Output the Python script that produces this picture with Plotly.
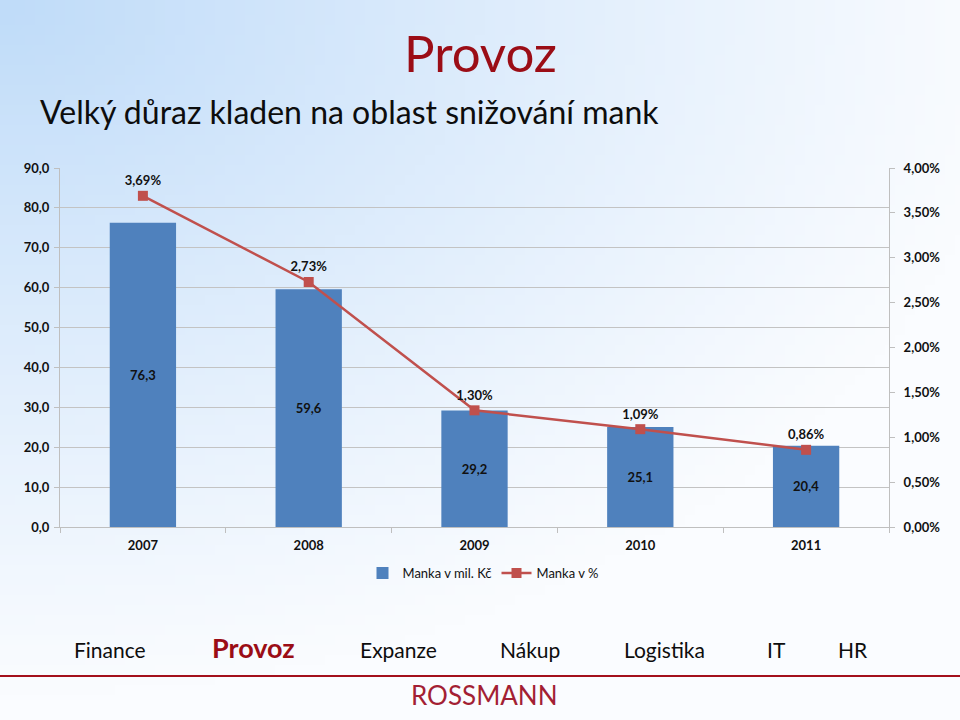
import base64, struct, zlib
import numpy as np
import plotly.graph_objects as go

# ---- data ----
years = ["2007", "2008", "2009", "2010", "2011"]
manka_mil = [76.3, 59.6, 29.2, 25.1, 20.4]
manka_pct = [0.0369, 0.0273, 0.0130, 0.0109, 0.0086]
nav_items = ["Finance", "Provoz", "Expanze", "Nákup", "Logistika", "IT", "HR"]

W, H = 960, 720
L, R, T, B = 60, 889, 168, 527


def px(x):
    return (x - L) / (R - L)


def py(y):
    return (B - y) / (B - T)


# ---- gradient background png ----
def gradient_png(w=96, h=72):
    yy, xx = np.mgrid[0:h, 0:w]
    d = np.sqrt((xx / (w * 1.05)) ** 2 + (yy / (h * 0.95)) ** 2)
    t = np.clip(1 - d, 0, 1) ** 1.1
    base = np.array([192, 220, 249], dtype=float)
    white = np.array([250, 252, 255], dtype=float)
    img = white[None, None, :] * (1 - t[..., None]) + base[None, None, :] * t[..., None]
    img = img.astype(np.uint8)
    raw = b"".join(b"\x00" + img[r].tobytes() for r in range(h))

    def chunk(tag, data):
        c = struct.pack(">I", len(data)) + tag + data
        return c + struct.pack(">I", zlib.crc32(tag + data) & 0xFFFFFFFF)

    png = b"\x89PNG\r\n\x1a\n" + chunk(b"IHDR", struct.pack(">IIBBBBB", w, h, 8, 2, 0, 0, 0))
    png += chunk(b"IDAT", zlib.compress(raw, 9)) + chunk(b"IEND", b"")
    return "data:image/png;base64," + base64.b64encode(png).decode()


FONT = "Lato"
BLUE = "#4f81bd"
RED = "#c0504d"
DARKRED = "#9b0d16"
TICKFONT = dict(family=FONT, size=13, color="#111111", weight="bold")

fig = go.Figure()
fig.add_trace(go.Bar(
    x=years, y=manka_mil, name="Manka v mil. Kč",
    marker=dict(color=BLUE, line=dict(width=0)), width=0.4,
    texttemplate="%{y:.1f}", textposition="inside", insidetextanchor="middle",
    textfont=dict(family=FONT, size=13, color="#111111", weight="bold"),
    cliponaxis=False,
))
fig.add_trace(go.Scatter(
    x=years, y=manka_pct, name="Manka v %", yaxis="y2",
    mode="lines+markers+text",
    line=dict(color=RED, width=2.5),
    marker=dict(symbol="square", size=10, color=RED),
    texttemplate="%{y:.2%}", textposition="top center",
    textfont=dict(family=FONT, size=13, color="#111111", weight="bold"),
    cliponaxis=False,
))

annotations = [
    dict(text="Provoz", x=px(480), y=py(52), xref="paper", yref="paper",
         showarrow=False, font=dict(family=FONT, size=51, color=DARKRED), xanchor="center", yanchor="middle"),
    dict(text="Velký důraz kladen na oblast snižování mank", x=px(38), y=py(112), xref="paper", yref="paper",
         showarrow=False, font=dict(family=FONT, size=32, color="#0d0d0d"), xanchor="left", yanchor="middle"),
    dict(text="ROSSMANN", x=px(484), y=py(695), xref="paper", yref="paper",
         showarrow=False, font=dict(family=FONT, size=26, color="#a31f34"), xanchor="center", yanchor="middle"),
]
nav_x = [110, 253, 398, 530, 664, 776, 853]
for name, xc in zip(nav_items, nav_x):
    bold = name == "Provoz"
    annotations.append(dict(
        text=f"<b>{name}</b>" if bold else name, x=px(xc), y=py(649 if not bold else 647),
        xref="paper", yref="paper", showarrow=False, xanchor="center", yanchor="middle",
        font=dict(family=FONT, size=27 if bold else 21, color=DARKRED if bold else "#0d0d0d")))

fig.update_layout(
    width=W, height=H,
    margin=dict(l=L, r=W - R, t=T, b=H - B, pad=0),
    paper_bgcolor="white", plot_bgcolor="white",
    separators=", ",
    font=dict(family=FONT, color="#111111"),
    showlegend=True,
    legend=dict(orientation="h", x=px(483), y=py(573), xanchor="center", yanchor="middle",
                font=dict(family=FONT, size=13, color="#111111"), bgcolor="rgba(0,0,0,0)",
                itemwidth=30, tracegroupgap=0),
    xaxis=dict(type="category", showgrid=False, showline=True, linecolor="#bfbfbf", linewidth=1,
               ticks="outside", tickson="boundaries", ticklen=5, tickcolor="#bfbfbf",
               ticklabelstandoff=6, tickfont=TICKFONT),
    yaxis=dict(range=[0, 90], dtick=10, tickformat=".1f", showgrid=True, gridcolor="#c3c3c3",
               gridwidth=1, showline=True, linecolor="#bfbfbf", ticks="outside", ticklen=5,
               tickcolor="#bfbfbf", zeroline=False, ticklabelstandoff=2, tickfont=TICKFONT),
    yaxis2=dict(range=[0, 0.04], dtick=0.005, tickformat=".2%", overlaying="y", side="right",
                showgrid=False, showline=True, linecolor="#bfbfbf", ticks="outside", ticklen=5,
                tickcolor="#bfbfbf", zeroline=False, ticklabelstandoff=6, tickfont=TICKFONT),
    annotations=annotations,
    images=[dict(source=gradient_png(), xref="paper", yref="paper",
                 x=px(0), y=py(0), sizex=px(W) - px(0), sizey=py(0) - py(H),
                 xanchor="left", yanchor="top", sizing="stretch", layer="below")],
    shapes=[dict(type="line", xref="paper", yref="paper", x0=px(0), x1=px(W), y0=py(676), y1=py(676),
                 line=dict(color="#a3101c", width=2))],
)

fig.write_html("out.html")
